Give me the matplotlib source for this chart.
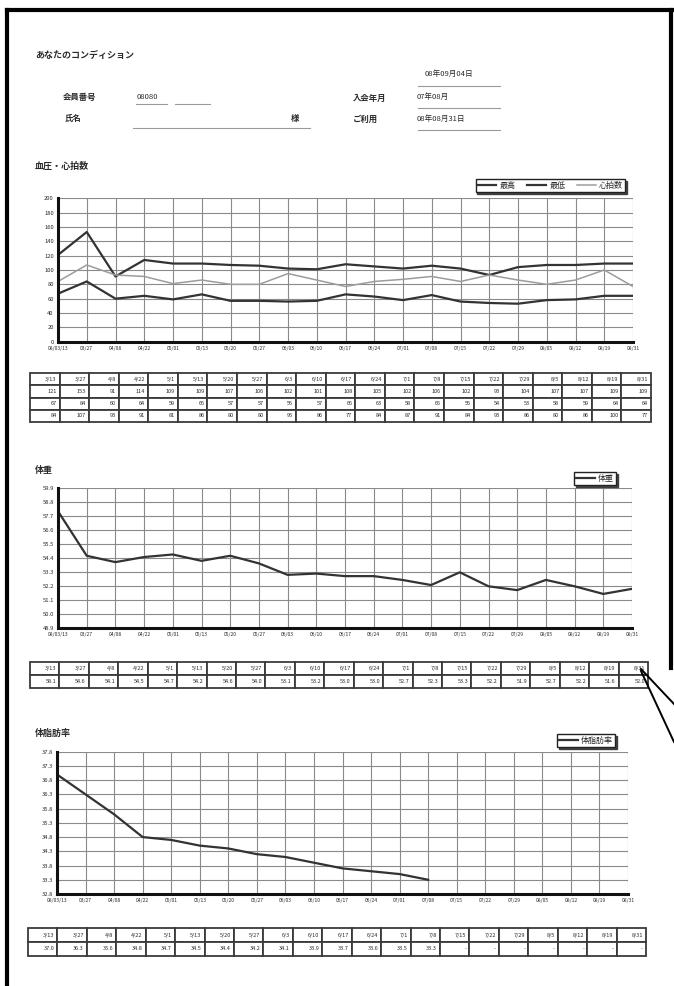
import matplotlib
matplotlib.use("Agg")
import matplotlib.pyplot as plt
from matplotlib.lines import Line2D
import numpy as np

plt.rcParams['font.family'] = ['Noto Sans CJK JP', 'DejaVu Sans']

W, H = 674, 986

# ---- data ----
dates = ["08/03/13", "03/27", "04/08", "04/22", "05/01", "05/13", "05/20",
         "05/27", "06/03", "06/10", "06/17", "06/24", "07/01", "07/08",
         "07/15", "07/22", "07/29", "08/05", "08/12", "08/19", "08/31"]
table_dates = ["3/13", "3/27", "4/8", "4/22", "5/1", "5/13", "5/20", "5/27",
               "6/3", "6/10", "6/17", "6/24", "7/1", "7/8", "7/15", "7/22",
               "7/29", "8/5", "8/12", "8/19", "8/31"]

bp_high = [121, 153, 91, 114, 109, 109, 107, 106, 102, 101, 108,
           105, 102, 106, 102, 93, 104, 107, 107, 109, 109]
bp_low = [67, 84, 60, 64, 59, 66, 57, 57, 56, 57, 66,
          63, 58, 65, 56, 54, 53, 58, 59, 64, 64]
pulse = [84, 107, 93, 91, 81, 86, 80, 80, 95, 86, 77,
         84, 87, 91, 84, 93, 86, 80, 86, 100, 77]

weight = [58.1, 54.6, 54.1, 54.5, 54.7, 54.2, 54.6, 54.0, 53.1, 53.2, 53.0,
          53.0, 52.7, 52.3, 53.3, 52.2, 51.9, 52.7, 52.2, 51.6, 52.0]

body_fat = [37.0, 36.3, 35.6, 34.8, 34.7, 34.5, 34.4, 34.2, 34.1, 33.9, 33.7,
            33.6, 33.5, 33.3, None, None, None, None, None, None, None]

bp_ticks = list(range(0, 201, 20))
weight_ticks = [48.9, 50.0, 51.1, 52.2, 53.3, 54.4, 55.5, 56.6, 57.7, 58.8, 59.9]
fat_ticks = [32.8, 33.3, 33.8, 34.3, 34.8, 35.3, 35.8, 36.3, 36.8, 37.3, 37.8]

INK = "#2b2b2b"
GRID = "#8a8a8a"

fig = plt.figure(figsize=(W / 100, H / 100), dpi=100)
fig.patch.set_facecolor("white")


def px_axes(x0, y0, x1, y1):
    return fig.add_axes([x0 / W, 1 - y1 / H, (x1 - x0) / W, (y1 - y0) / H])


def fx(x):
    return x / W


def fy(y):
    return 1 - y / H


def text_px(x, y, s, size=5.5, weight="normal", ha="left", color=INK):
    fig.text(fx(x), fy(y), s, fontsize=size, fontweight=weight, ha=ha,
             va="center", color=color)


def line_px(x0, y0, x1, y1, lw=0.8, color="#9a9a9a"):
    fig.add_artist(Line2D([fx(x0), fx(x1)], [fy(y0), fy(y1)], lw=lw,
                          color=color, transform=fig.transFigure))


# ---- page frame and callout ----
line_px(7, 10, 674, 10, lw=3, color="black")
line_px(7, 10, 7, 986, lw=3, color="black")
line_px(671, 10, 671, 668, lw=3, color="black")
line_px(641, 669, 674, 704, lw=1.4, color="black")
line_px(641, 671, 674, 742, lw=1.4, color="black")

# ---- header ----
text_px(35, 55, "あなたのコンディション", size=6.5, weight="bold")
text_px(425, 74, "08年09月04日", size=5.5)
line_px(418, 86, 500, 86)
text_px(63, 97, "会員番号", size=6, weight="bold")
text_px(137, 97, "08080", size=5.5)
line_px(136, 104, 167, 104)
line_px(175, 104, 210, 104)
text_px(353, 98, "入会年月", size=6, weight="bold")
text_px(417, 97, "07年08月", size=5.5)
line_px(418, 108, 500, 108)
text_px(65, 118, "氏名", size=6, weight="bold")
text_px(291, 118, "様", size=6, weight="bold")
line_px(133, 128, 310, 128)
text_px(353, 119, "ご利用", size=6, weight="bold")
text_px(417, 119, "08年08月31日", size=5.5)
line_px(418, 130, 500, 130)


def style_chart(ax, ticks, fmt):
    n = len(dates)
    ax.set_xlim(0, n - 1)
    ax.set_ylim(ticks[0], ticks[-1])
    ax.set_xticks(range(n))
    ax.set_xticklabels(dates, fontsize=3.6, color=INK)
    ax.set_yticks(ticks)
    ax.set_yticklabels([fmt.format(t) for t in ticks], fontsize=4.2, color=INK)
    ax.tick_params(length=0, pad=3)
    ax.grid(True, color=GRID, lw=0.8)
    ax.set_axisbelow(True)
    for side in ("top", "right"):
        ax.spines[side].set_visible(False)
    for side in ("left", "bottom"):
        ax.spines[side].set_linewidth(2.2)
        ax.spines[side].set_color("#111111")
    ax.set_facecolor("white")


def add_legend(ax, x_right, y_top):
    leg = ax.legend(loc="upper right", bbox_to_anchor=(fx(x_right), fy(y_top)),
                    bbox_transform=fig.transFigure, ncol=3, fontsize=5.8,
                    frameon=True, fancybox=False,
                    shadow={"ox": 1.2, "oy": -1.2, "color": "#333333",
                            "alpha": 0.9},
                    handlelength=2.3, handletextpad=0.4, columnspacing=1.5,
                    borderpad=0.25, borderaxespad=0)
    leg.get_frame().set_edgecolor("#222222")
    leg.get_frame().set_linewidth(1.0)
    for t in leg.get_texts():
        t.set_color(INK)


def draw_table(ax, rows):
    ax.axis("off")
    tb = ax.table(cellText=rows, bbox=[0, 0, 1, 1], cellLoc="right")
    tb.auto_set_font_size(False)
    tb.set_fontsize(4.0)
    for cell in tb.get_celld().values():
        cell.set_edgecolor("#3a3a3a")
        cell.set_linewidth(1.3)
        cell.get_text().set_color(INK)
    return tb


x = np.arange(len(dates))

# ---- 血圧・心拍数 ----
text_px(35, 166, "血圧・心拍数", size=6.5, weight="bold")
ax1 = px_axes(58, 198.3, 633, 341.7)
style_chart(ax1, bp_ticks, "{:d}")
ax1.plot(x, bp_high, color="#333333", lw=1.6, label="最高")
ax1.plot(x, bp_low, color="#333333", lw=1.6, label="最低")
ax1.plot(x, pulse, color="#9c9c9c", lw=1.1, label="心拍数")
add_legend(ax1, 625, 179)

t1 = px_axes(30, 373, 651, 422)
draw_table(t1, [table_dates,
                [str(v) for v in bp_high],
                [str(v) for v in bp_low],
                [str(v) for v in pulse]])

# ---- 体重 ----
text_px(35, 470, "体重", size=6.5, weight="bold")
ax2 = px_axes(58, 488.3, 632, 628.3)
style_chart(ax2, weight_ticks, "{:.1f}")
ax2.plot(x, weight, color="#333333", lw=1.6, label="体重")
add_legend(ax2, 616, 472)

t2 = px_axes(30, 662, 648, 688)
draw_table(t2, [table_dates, ["{:.1f}".format(v) for v in weight]])

# ---- 体脂肪率 ----
text_px(35, 733, "体脂肪率", size=6.5, weight="bold")
ax3 = px_axes(57, 751.7, 628, 894)
style_chart(ax3, fat_ticks, "{:.1f}")
fat_arr = np.array([np.nan if v is None else v for v in body_fat])
ax3.plot(x, fat_arr, color="#333333", lw=1.6, label="体脂肪率")
add_legend(ax3, 615, 734)

t3 = px_axes(28, 928, 646, 956)
draw_table(t3, [table_dates,
                ["-" if v is None else "{:.1f}".format(v) for v in body_fat]])

fig.savefig("out.png", dpi=100, facecolor="white")
